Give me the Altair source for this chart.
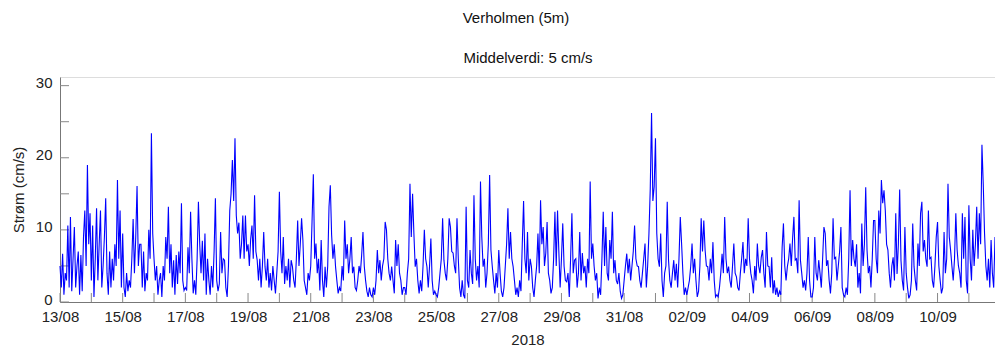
import altair as alt
import pandas as pd

# hourly current speed (cm/s), one list per day
v_13_08 = [5, 2, 6.7, 1, 4, 3, 10.6, 2, 11.8, 1.5, 6, 10.4, 2, 5, 7, 1, 6.5, 1.5, 9, 12.7, 5, 19, 8, 12.3]
v_14_08 = [3, 10.6, 0.7, 6, 13, 3, 8, 12.7, 2, 5, 9, 14.4, 4, 1, 7, 2, 6, 3, 8, 5, 16.9, 6, 12.7, 2]
v_15_08 = [9.5, 2, 0.7, 4, 1.5, 3, 2, 6, 11.5, 4, 9, 16.1, 5, 8, 8, 2, 7, 1.5, 4, 3, 10, 6, 23.4, 9.5]
v_16_08 = [6, 3, 5, 1, 3, 4, 0.7, 5, 3, 9, 6, 13.2, 4, 8, 2, 5.8, 1, 6.5, 2.5, 7, 4, 13.7, 3, 1.6]
v_17_08 = [2, 1.6, 7.6, 4, 12.5, 6, 1.2, 3, 1, 6, 13.9, 8, 4, 8.5, 3, 9.5, 1, 6, 3, 1, 5, 2, 7, 14.4]
v_18_08 = [3, 1.5, 2.5, 9.7, 4, 6, 5.8, 2, 0.7, 5, 12.7, 15, 19.7, 14, 22.7, 12, 9.5, 11, 6, 8, 12, 6, 12, 7]
v_19_08 = [8, 5, 8.7, 10.6, 6, 14.8, 7, 5.8, 3, 6, 2, 5, 9.7, 4.9, 3, 6, 2, 4, 1.6, 5, 3, 1.2, 4, 7]
v_20_08 = [15.3, 7, 4, 9, 2.5, 5, 3, 6, 2, 5.8, 4.9, 3, 2, 6, 11.3, 5, 8, 11.6, 8.6, 3, 2, 1, 4, 3]
v_21_08 = [5, 11.1, 17.7, 6, 8.1, 4, 6, 1.6, 8.6, 3, 0.7, 4.9, 2, 5, 13.2, 16.2, 9.3, 6, 8, 4.9, 3, 1.2, 2, 1.5]
v_22_08 = [5, 3, 11.3, 6, 8, 4, 6, 9, 4, 4.9, 2, 1.6, 3, 5, 4, 6.5, 9.7, 5, 3, 1.5, 0.7, 2, 1, 0.7]
v_23_08 = [2, 1, 3, 7.2, 4, 5.8, 3, 5, 6, 11.1, 10, 6, 4, 3, 4.9, 3, 1.2, 8.6, 5, 8, 4, 3, 1, 2]
v_24_08 = [2, 1, 4, 6, 16.4, 9, 15, 9.5, 4.9, 6, 3, 1.2, 3, 1.5, 5, 10, 6, 4.9, 2, 5, 8.8, 3, 1, 1.5]
v_25_08 = [1, 0.7, 2, 4, 6, 11.6, 5.8, 4, 3, 6, 11.6, 10.4, 7, 6.8, 5, 4, 11.6, 6, 2, 0.7, 3, 1, 0.5, 13.2]
v_26_08 = [3, 2, 7.2, 4, 2.5, 14.8, 6, 3, 5, 2, 16.7, 9, 4.9, 6, 2, 4, 8, 17.6, 7.2, 5, 3, 1.2, 4, 2]
v_27_08 = [7.2, 4, 1.5, 0.7, 2, 5, 8, 13, 6, 9.7, 6, 4.9, 3, 1, 2, 0.7, 3, 1.5, 8, 14, 6, 4, 9.7, 3]
v_28_08 = [6, 4.9, 2, 0.7, 3, 5, 9.5, 4, 14.1, 8, 10.4, 5, 6.8, 11.1, 4, 3, 1.2, 2, 6, 12.5, 5, 12.7, 7, 2]
v_29_08 = [6, 10.9, 5, 3, 2.8, 4, 0.7, 6, 12.3, 4, 5.8, 6, 2, 4, 9.7, 3, 6.8, 4, 5, 2, 6, 4, 16.7, 6]
v_30_08 = [8.1, 5, 3, 4, 0.5, 2, 1, 6, 12.5, 5, 10.4, 4, 3, 8.6, 6, 12.5, 4, 5.8, 3, 2.5, 4, 1.5, 0.5, 1]
v_31_08 = [3, 5, 6.7, 4, 6, 3, 5, 7, 10.6, 6, 5, 4.9, 3, 2, 4, 6, 8.1, 2, 5, 9.5, 15.7, 26.2, 14, 16]
v_01_09 = [22.7, 9.5, 6, 4.9, 9.5, 3, 0.7, 4, 5, 13.9, 5.8, 3, 2, 4, 5.8, 3, 5.3, 2, 6, 11.8, 8.1, 4, 1, 2]
v_02_09 = [1, 2, 3, 5, 8.1, 4, 6, 3, 0.7, 1.5, 5, 11.6, 7, 11.3, 7.2, 5, 4.9, 3, 6, 4, 8.3, 3, 0.7, 1]
v_03_09 = [0.7, 2, 4, 6.7, 4, 11.8, 6, 4, 4.9, 3, 2, 5, 8.1, 4, 3.5, 2, 1.6, 4, 6, 8.3, 4, 6, 5, 11.6]
v_04_09 = [6, 4, 3, 1.2, 5, 3, 8.1, 5, 4, 6.2, 7.2, 4, 2, 9.7, 5, 4.9, 2, 6.2, 1.2, 3, 1, 2, 0.7, 1.5]
v_05_09 = [1, 7.6, 10.9, 5, 3, 4.9, 6, 8.1, 5, 8.8, 11.8, 5.8, 6, 4, 14.1, 5.8, 4, 2, 3, 1.6, 4, 9, 3, 0.7]
v_06_09 = [0.7, 2, 9, 4, 3, 5.8, 4, 2, 6, 10.4, 9.5, 5, 5.8, 3, 1.2, 4, 11.6, 6, 6.2, 3, 5, 7, 10.4, 2]
v_07_09 = [1, 0.7, 2, 1, 6, 15.5, 5, 8.6, 6, 4.9, 8, 2, 4, 1.2, 10.9, 5, 8, 15.9, 7.2, 4, 5, 2, 6, 11.3]
v_08_09 = [11.3, 6, 4, 12.7, 9.5, 16.9, 13.7, 15.5, 12.7, 8, 7.2, 4, 2, 5, 6.2, 3, 12.3, 3.9, 8, 15.6, 5.8, 3, 1.6, 10.4]
v_09_09 = [4, 2, 0.5, 1, 3, 10.9, 4.9, 3, 1.6, 8.1, 5, 12.3, 13.9, 7, 8.6, 6, 4.9, 12.7, 6, 6.2, 3, 2, 5, 9]
v_10_09 = [11.1, 5, 3, 1.2, 2, 9.7, 4, 6, 16.4, 9, 7.2, 5, 3, 6, 12.3, 7.2, 5, 4, 2, 12.3, 6, 11.8, 3, 1.2]
v_11_09 = [13.4, 6, 3, 10, 5, 8, 13.2, 6, 12.3, 8, 21.8, 16.4, 9.5, 5, 3, 6, 2, 8.6, 4, 2, 9]

days = [v_13_08, v_14_08, v_15_08, v_16_08, v_17_08, v_18_08, v_19_08, v_20_08,
        v_21_08, v_22_08, v_23_08, v_24_08, v_25_08, v_26_08, v_27_08, v_28_08,
        v_29_08, v_30_08, v_31_08, v_01_09, v_02_09, v_03_09, v_04_09, v_05_09,
        v_06_09, v_07_09, v_08_09, v_09_09, v_10_09, v_11_09]

y_ticks = [0, 5, 10, 15, 20, 25, 30]
title_text = "Verholmen (5m)"
subtitle_text = "Middelverdi: 5 cm/s"
y_title = "Strøm (cm/s)"
x_title = "2018"

speed = [v for d in days for v in d]
times = pd.date_range("2018-08-13 00:00", periods=len(speed), freq="h")
df = pd.DataFrame({"t": times.strftime("%Y-%m-%dT%H:%M:%S"), "v": speed})

tick_days = pd.date_range("2018-08-13", "2018-09-11", freq="D")
ticks_df = pd.DataFrame({"t": tick_days.strftime("%Y-%m-%dT%H:%M:%S")})
label_days = tick_days[::2]
label_values = [alt.DateTime(year=d.year, month=d.month, date=d.day) for d in label_days]

W, H = 935, 225
FONT = "Liberation Sans"

xscale = alt.Scale(domain=[alt.DateTime(year=2018, month=8, date=13),
                           alt.DateTime(year=2018, month=9, date=11, hours=20)])
yscale = alt.Scale(domain=[0, 31.2], nice=False)

line = alt.Chart(df).mark_line(color="#0000ff", strokeWidth=1.1).encode(
    x=alt.X("t:T", scale=xscale,
            axis=alt.Axis(values=label_values, format="%d/%m", ticks=False, grid=False,
                          domainColor="#777", labelFont=FONT, labelFontSize=15,
                          labelColor="#222", labelPadding=7, labelFlush=False,
                          title=x_title, titleFont=FONT, titleFontSize=15,
                          titleFontWeight="normal", titleColor="#222",
                          titleY=37, titleBaseline="middle")),
    y=alt.Y("v:Q", scale=yscale,
            axis=alt.Axis(values=y_ticks, ticks=False, grid=False, domainColor="#777",
                          labelFont=FONT, labelFontSize=15, labelColor="#222",
                          labelPadding=8, labelOffset=-3, title=y_title, titleFont=FONT,
                          titleFontSize=15, titleFontWeight="normal", titleColor="#222",
                          titleX=-42, titleY=H / 2, titleAlign="center",
                          titleBaseline="middle")),
)

xticks = alt.Chart(ticks_df).mark_rule(color="#888", strokeWidth=1).encode(
    x=alt.X("t:T", scale=xscale), y=alt.value(H), y2=alt.value(H - 9)
)
yticks = alt.Chart(pd.DataFrame({"v": y_ticks})).mark_rule(color="#888", strokeWidth=1).encode(
    y=alt.Y("v:Q", scale=yscale), x=alt.value(0), x2=alt.value(9)
)

titles = alt.Chart(pd.DataFrame({"s": [title_text, subtitle_text],
                                 "px": [456, 468], "py": [-59, -19]})).mark_text(
    font=FONT, fontSize=15, color="#111", align="center", baseline="middle"
).encode(text="s:N", x=alt.X("px:Q", scale=None), y=alt.Y("py:Q", scale=None))

chart = alt.layer(yticks, xticks, line, titles).properties(
    width=W, height=H,
    padding={"left": 60, "top": 77, "right": 0, "bottom": 48},
    autosize=alt.AutoSizeParams(type="none"),
).configure_view(stroke=None).configure(background="white")

chart.save("out.html", embed_options={"renderer": "svg", "actions": False})
